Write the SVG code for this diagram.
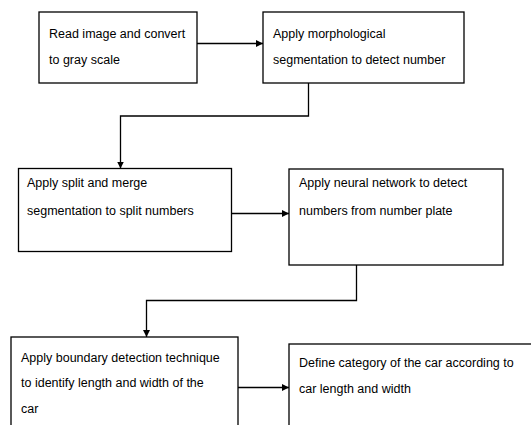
<svg xmlns="http://www.w3.org/2000/svg" width="531" height="425" viewBox="0 0 531 425">
<style>
.box{fill:#fff;stroke:#000;stroke-width:1.3}
.t{font-family:"Liberation Sans",Arial,sans-serif;font-size:12.5px;fill:#000}
.c{fill:none;stroke:#000;stroke-width:1.3}
</style>
<defs>
<marker id="ah" viewBox="0 0 10 10" refX="10" refY="5" markerWidth="7" markerHeight="7" markerUnits="userSpaceOnUse" orient="auto"><path d="M0,0 L10,5 L0,10 z" fill="#000"/></marker>
</defs>
<rect width="531" height="425" fill="#fff"/>
<g id="n1"><rect class="box" x="39" y="12" width="158" height="71"/>
<text class="t" x="49" y="38">Read image and convert</text><text class="t" x="49" y="64">to gray scale</text></g>
<g id="n2"><rect class="box" x="263" y="12" width="201" height="71"/>
<text class="t" x="273" y="38">Apply morphological</text><text class="t" x="273" y="64">segmentation  to detect number</text></g>
<g id="n3"><rect class="box" x="18.5" y="168.5" width="213" height="83"/>
<text class="t" x="27" y="187">Apply split and  merge</text><text class="t" x="27" y="215">segmentation  to split numbers</text></g>
<g id="n4"><rect class="box" x="289" y="169" width="214" height="96"/>
<text class="t" x="299" y="187">Apply neural network to detect</text><text class="t" x="299" y="215">numbers from number plate</text></g>
<g id="n5"><rect class="box" x="11" y="337" width="227" height="100"/>
<text class="t" x="21" y="362">Apply boundary detection technique</text><text class="t" x="21" y="387">to identify length and width of the</text><text class="t" x="21" y="413">car</text></g>
<g id="n6"><rect class="box" x="289" y="344" width="260" height="100"/>
<text class="t" x="299" y="367">Define category of the car according to</text><text class="t" x="299" y="393">car length and width</text></g>
<g id="connectors">
<path class="c" d="M197,43.5 H263" marker-end="url(#ah)"/>
<path class="c" d="M308.5,83 V116 H120.5 V168.5" marker-end="url(#ah)"/>
<path class="c" d="M231.5,213.5 H289" marker-end="url(#ah)"/>
<path class="c" d="M356.5,265 V300.5 H146.5 V337" marker-end="url(#ah)"/>
<path class="c" d="M238,387.5 H289" marker-end="url(#ah)"/>
</g>
</svg>
